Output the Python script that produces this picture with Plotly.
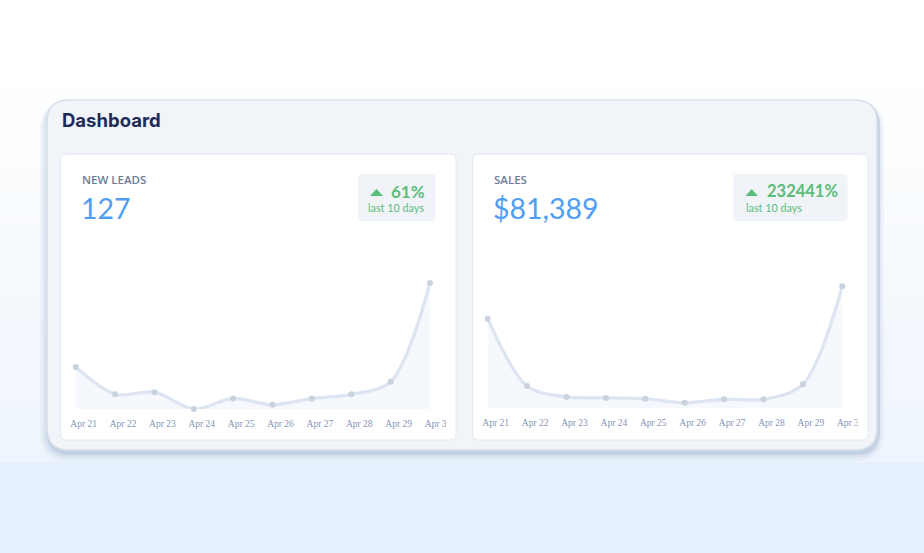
import plotly.graph_objects as go

# ---------------- data ----------------
dates = ["Apr 21", "Apr 22", "Apr 23", "Apr 24", "Apr 25",
         "Apr 26", "Apr 27", "Apr 28", "Apr 29", "Apr 30"]
new_leads = [20, 7, 8, 0, 5, 2, 5, 7, 13, 60]
sales = [23300, 5800, 2950, 2700, 2500, 1450, 2350, 2340, 6250, 31749]
leads_total_label = "127"
sales_total_label = "$81,389"
leads_change_label = "61%"
sales_change_label = "232441%"
period_label = "last 10 days"
card_titles = ["NEW LEADS", "SALES"]
title_text = "Dashboard"

W, H = 924, 553


def px(x):
    return x / W


def py(y):
    return 1 - y / H


def rrect(x0, y0, x1, y1, r):
    return (f"M {px(x0 + r)},{py(y0)} L {px(x1 - r)},{py(y0)} "
            f"Q {px(x1)},{py(y0)} {px(x1)},{py(y0 + r)} "
            f"L {px(x1)},{py(y1 - r)} Q {px(x1)},{py(y1)} {px(x1 - r)},{py(y1)} "
            f"L {px(x0 + r)},{py(y1)} Q {px(x0)},{py(y1)} {px(x0)},{py(y1 - r)} "
            f"L {px(x0)},{py(y0 + r)} Q {px(x0)},{py(y0)} {px(x0 + r)},{py(y0)} Z")


shapes = []


def add_path(path, fill, line_color=None, line_width=0, layer="below"):
    shapes.append(dict(type="path", xref="paper", yref="paper", path=path,
                       fillcolor=fill, layer=layer,
                       line=dict(color=line_color or "rgba(0,0,0,0)", width=line_width)))


def add_rect(x0, y0, x1, y1, fill, layer="below"):
    shapes.append(dict(type="rect", xref="paper", yref="paper",
                       x0=px(x0), x1=px(x1), y0=py(y1), y1=py(y0),
                       fillcolor=fill, line=dict(width=0), layer=layer))


# background gradient
def lerp(c0, c1, t):
    return "#%02x%02x%02x" % tuple(int(round(a + (b - a) * t)) for a, b in zip(c0, c1))


add_rect(0, 0, W, H, "#ffffff")
top, bot = 70, 462
nb = 28
c0, c1 = (255, 255, 255), (238, 245, 253)
for i in range(nb):
    ya = top + (bot - top) * i / nb
    yb = top + (bot - top) * (i + 1) / nb + 0.5
    add_rect(0, ya, W, yb, lerp(c0, c1, (i + 0.5) / nb))
add_rect(0, bot, W, H, "#e5f0fd")

# panel shadow layers
for (dx, dy, grow, col) in [(0, 8, 7, "rgba(190,205,225,0.18)"),
                            (0, 6, 4, "rgba(180,196,218,0.25)"),
                            (1, 4, 2, "rgba(170,188,212,0.45)")]:
    add_path(rrect(47 - grow + dx, 100 - grow + dy, 877 + grow + dx, 450 + grow // 2 + dy, 22 + grow),
             col)

# panel
add_path(rrect(47, 100, 877, 450, 22), "#f1f4f8", "#d6dfea", 1.5)

# cards
cards = [(60.5, 154, 456, 440), (472.5, 154, 868, 440)]
for (x0, y0, x1, y1) in cards:
    add_path(rrect(x0, y0, x1, y1, 6), "#ffffff", "#e2e8f0", 1)

# badges
add_path(rrect(358, 174, 435.5, 221, 4), "#f0f3f7")
add_path(rrect(733, 174, 847.5, 221, 4), "#f0f3f7")

# triangles
green = "#5cbd7a"
for (cx, yt, yb_, hw) in [(376.5, 189, 196, 6.5), (751.7, 189, 196, 6.2)]:
    shapes.append(dict(type="path", xref="paper", yref="paper",
                       path=f"M {px(cx - hw)},{py(yb_)} L {px(cx + hw)},{py(yb_)} L {px(cx)},{py(yt)} Z",
                       fillcolor=green, line=dict(width=0), layer="below"))

# masks clipping the last tick label at the card's inner edge
add_rect(446, 413, 455.2, 434, "#ffffff", layer="above")
add_rect(857.5, 413, 867.2, 434, "#ffffff", layer="above")

fig = go.Figure()

line_col = "#dce5f1"
marker_col = "#c9d2df"
fill_col = "rgba(226,234,246,0.35)"

fig.add_trace(go.Scatter(
    x=dates, y=new_leads, mode="lines+markers", xaxis="x", yaxis="y",
    line=dict(color=line_col, width=3.3, shape="spline", smoothing=0.9),
    marker=dict(size=6, color=marker_col),
    fill="tozeroy", fillcolor=fill_col, cliponaxis=False, hoverinfo="skip",
    showlegend=False))
fig.add_trace(go.Scatter(
    x=dates, y=sales, mode="lines+markers", xaxis="x2", yaxis="y2",
    line=dict(color=line_col, width=3.3, shape="spline", smoothing=0.9),
    marker=dict(size=6, color=marker_col),
    fill="tozeroy", fillcolor=fill_col, cliponaxis=False, hoverinfo="skip",
    showlegend=False))

tickfont = dict(family="Liberation Serif", size=9.5, color="#8494b6")
xcommon = dict(type="category", range=[0, 9], showgrid=False, zeroline=False,
               showline=False, ticks="", tickfont=tickfont, fixedrange=True,
               ticklabelshift=8, ticklabelstandoff=7, automargin=False)
ycommon = dict(visible=False, showgrid=False, zeroline=False, fixedrange=True,
               automargin=False)

annotations = []


def text(x, y, s, size, color, family="Lato", weight="normal", xanchor="left"):
    annotations.append(dict(x=px(x), y=py(y), xref="paper", yref="paper",
                            text=s, showarrow=False, xanchor=xanchor, yanchor="middle",
                            font=dict(family=family, size=size, color=color, weight=weight)))


text(60, 120, title_text, 18.5, "#1e2c5a", family="Inter", weight="bold")
text(80, 179.5, card_titles[0], 11.5, "#6c7b99", family="Open Sans", weight=600)
text(492, 179.5, card_titles[1], 11.5, "#6c7b99", family="Open Sans", weight=600)
text(78.5, 207.5, leads_total_label, 28.5, "#4f9ef4", family="Lato")
text(491, 207.5, sales_total_label, 28.5, "#4f9ef4", family="Lato")
text(388.5, 191, leads_change_label, 17, green, family="Lato", weight="bold")
text(764.5, 191, sales_change_label, 16.5, green, family="Lato", weight="bold")
text(396, 208, period_label, 10.8, green, family="Lato", xanchor="center")
text(744, 208, period_label, 10.8, green, family="Lato")

fig.update_layout(
    template="none",
    width=W, height=H, autosize=False,
    margin=dict(l=0, r=0, t=0, b=0, pad=0, autoexpand=False),
    paper_bgcolor="#ffffff", plot_bgcolor="rgba(0,0,0,0)",
    shapes=shapes, annotations=annotations,
    xaxis=dict(domain=[px(75.7), px(430)], anchor="y", **xcommon),
    yaxis=dict(domain=[py(409), py(283)], range=[0, 60], anchor="x", **ycommon),
    xaxis2=dict(domain=[px(487.7), px(842.3)], anchor="y2", **xcommon),
    yaxis2=dict(domain=[py(408.3), py(286.3)], range=[0, 31749], anchor="x2", **ycommon),
    showlegend=False,
)

fig.write_html("out.html", config=dict(displayModeBar=False, staticPlot=True),
               post_script="document.body.style.margin='0';document.body.style.overflow='hidden';")
